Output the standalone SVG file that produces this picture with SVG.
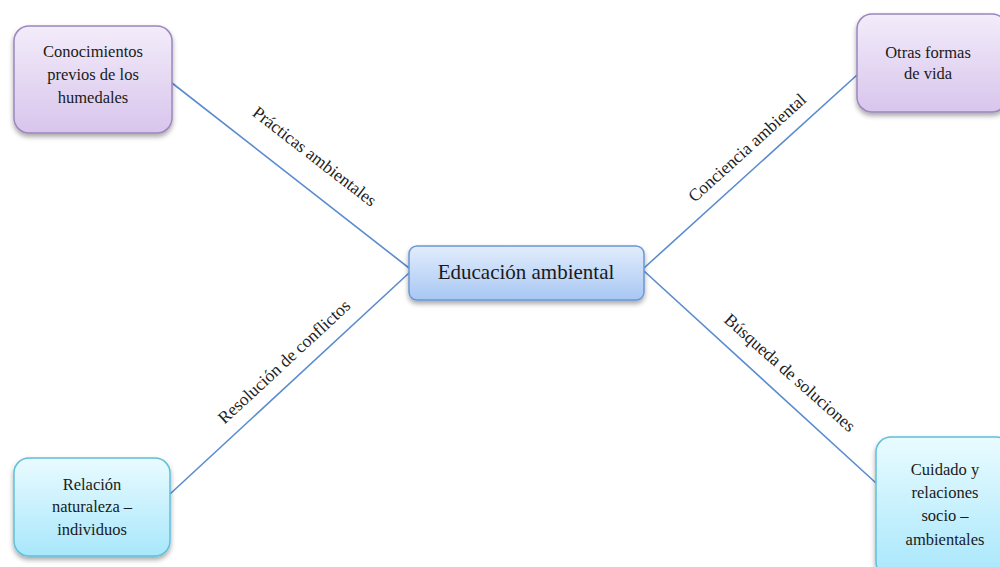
<svg xmlns="http://www.w3.org/2000/svg" width="1000" height="567" viewBox="0 0 1000 567">
<defs>
<linearGradient id="gP" x1="0" y1="0" x2="0" y2="1"><stop offset="0" stop-color="#f3ecfa"/><stop offset="1" stop-color="#d8c5ec"/></linearGradient>
<linearGradient id="gC" x1="0" y1="0" x2="0" y2="1"><stop offset="0" stop-color="#e9fbff"/><stop offset="1" stop-color="#a8e7fb"/></linearGradient>
<linearGradient id="gB" x1="0" y1="0" x2="0" y2="1"><stop offset="0" stop-color="#e2edfc"/><stop offset="1" stop-color="#a8c7f4"/></linearGradient>
<filter id="sh" x="-20%" y="-20%" width="140%" height="150%"><feDropShadow dx="0" dy="3" stdDeviation="2.5" flood-color="#000" flood-opacity="0.35"/></filter>
<style>
.lbl{font-family:"Liberation Serif",serif;font-size:17.5px;fill:#222;text-anchor:middle}
.nt{font-family:"Liberation Serif",serif;font-size:16.5px;fill:#1a1a1a;text-anchor:middle}
.cl{stroke:#5a8ccf;stroke-width:1.6;fill:none}
.p{fill:url(#gP);stroke:#9b86bd;stroke-width:1.5;filter:url(#sh)}
.c{fill:url(#gC);stroke:#5fc0dc;stroke-width:1.5;filter:url(#sh)}
.b{fill:url(#gB);stroke:#6a97d4;stroke-width:1.5;filter:url(#sh)}
</style>
</defs>
<g id="connectors">
<line class="cl" x1="172" y1="83" x2="409" y2="268"/>
<line class="cl" x1="857" y1="75" x2="644" y2="268"/>
<line class="cl" x1="409" y1="273" x2="170" y2="494"/>
<line class="cl" x1="644" y1="271" x2="876" y2="483"/>
<text class="lbl" transform="translate(311,161) rotate(37.7)">Prácticas ambientales</text>
<text class="lbl" transform="translate(751,152) rotate(-42.2)">Conciencia ambiental</text>
<text class="lbl" transform="translate(288,366) rotate(-42.8)">Resolución de conflictos</text>
<text class="lbl" transform="translate(786,377) rotate(41.5)">Búsqueda de soluciones</text>
</g>
<g id="node-conocimientos">
<rect class="p" x="14" y="26" width="158" height="107" rx="15"/>
<text class="nt" x="93" y="57">Conocimientos</text>
<text class="nt" x="93" y="80">previos de los</text>
<text class="nt" x="93" y="103">humedales</text>
</g>
<g id="node-otras">
<rect class="p" x="857" y="14" width="150" height="98" rx="15"/>
<text class="nt" x="928" y="58">Otras formas</text>
<text class="nt" x="928" y="79">de vida</text>
</g>
<g id="node-educacion">
<rect class="b" x="409" y="246" width="235" height="54" rx="8"/>
<text class="nt" x="526" y="279" style="font-size:21px">Educación ambiental</text>
</g>
<g id="node-relacion">
<rect class="c" x="14" y="458" width="156" height="98" rx="15"/>
<text class="nt" x="92" y="490">Relación</text>
<text class="nt" x="92" y="512">naturaleza –</text>
<text class="nt" x="92" y="535">individuos</text>
</g>
<g id="node-cuidado">
<rect class="c" x="876" y="437" width="135" height="140" rx="15"/>
<text class="nt" x="945" y="475">Cuidado y</text>
<text class="nt" x="945" y="498">relaciones</text>
<text class="nt" x="945" y="521">socio –</text>
<text class="nt" x="945" y="545">ambientales</text>
</g>
</svg>
